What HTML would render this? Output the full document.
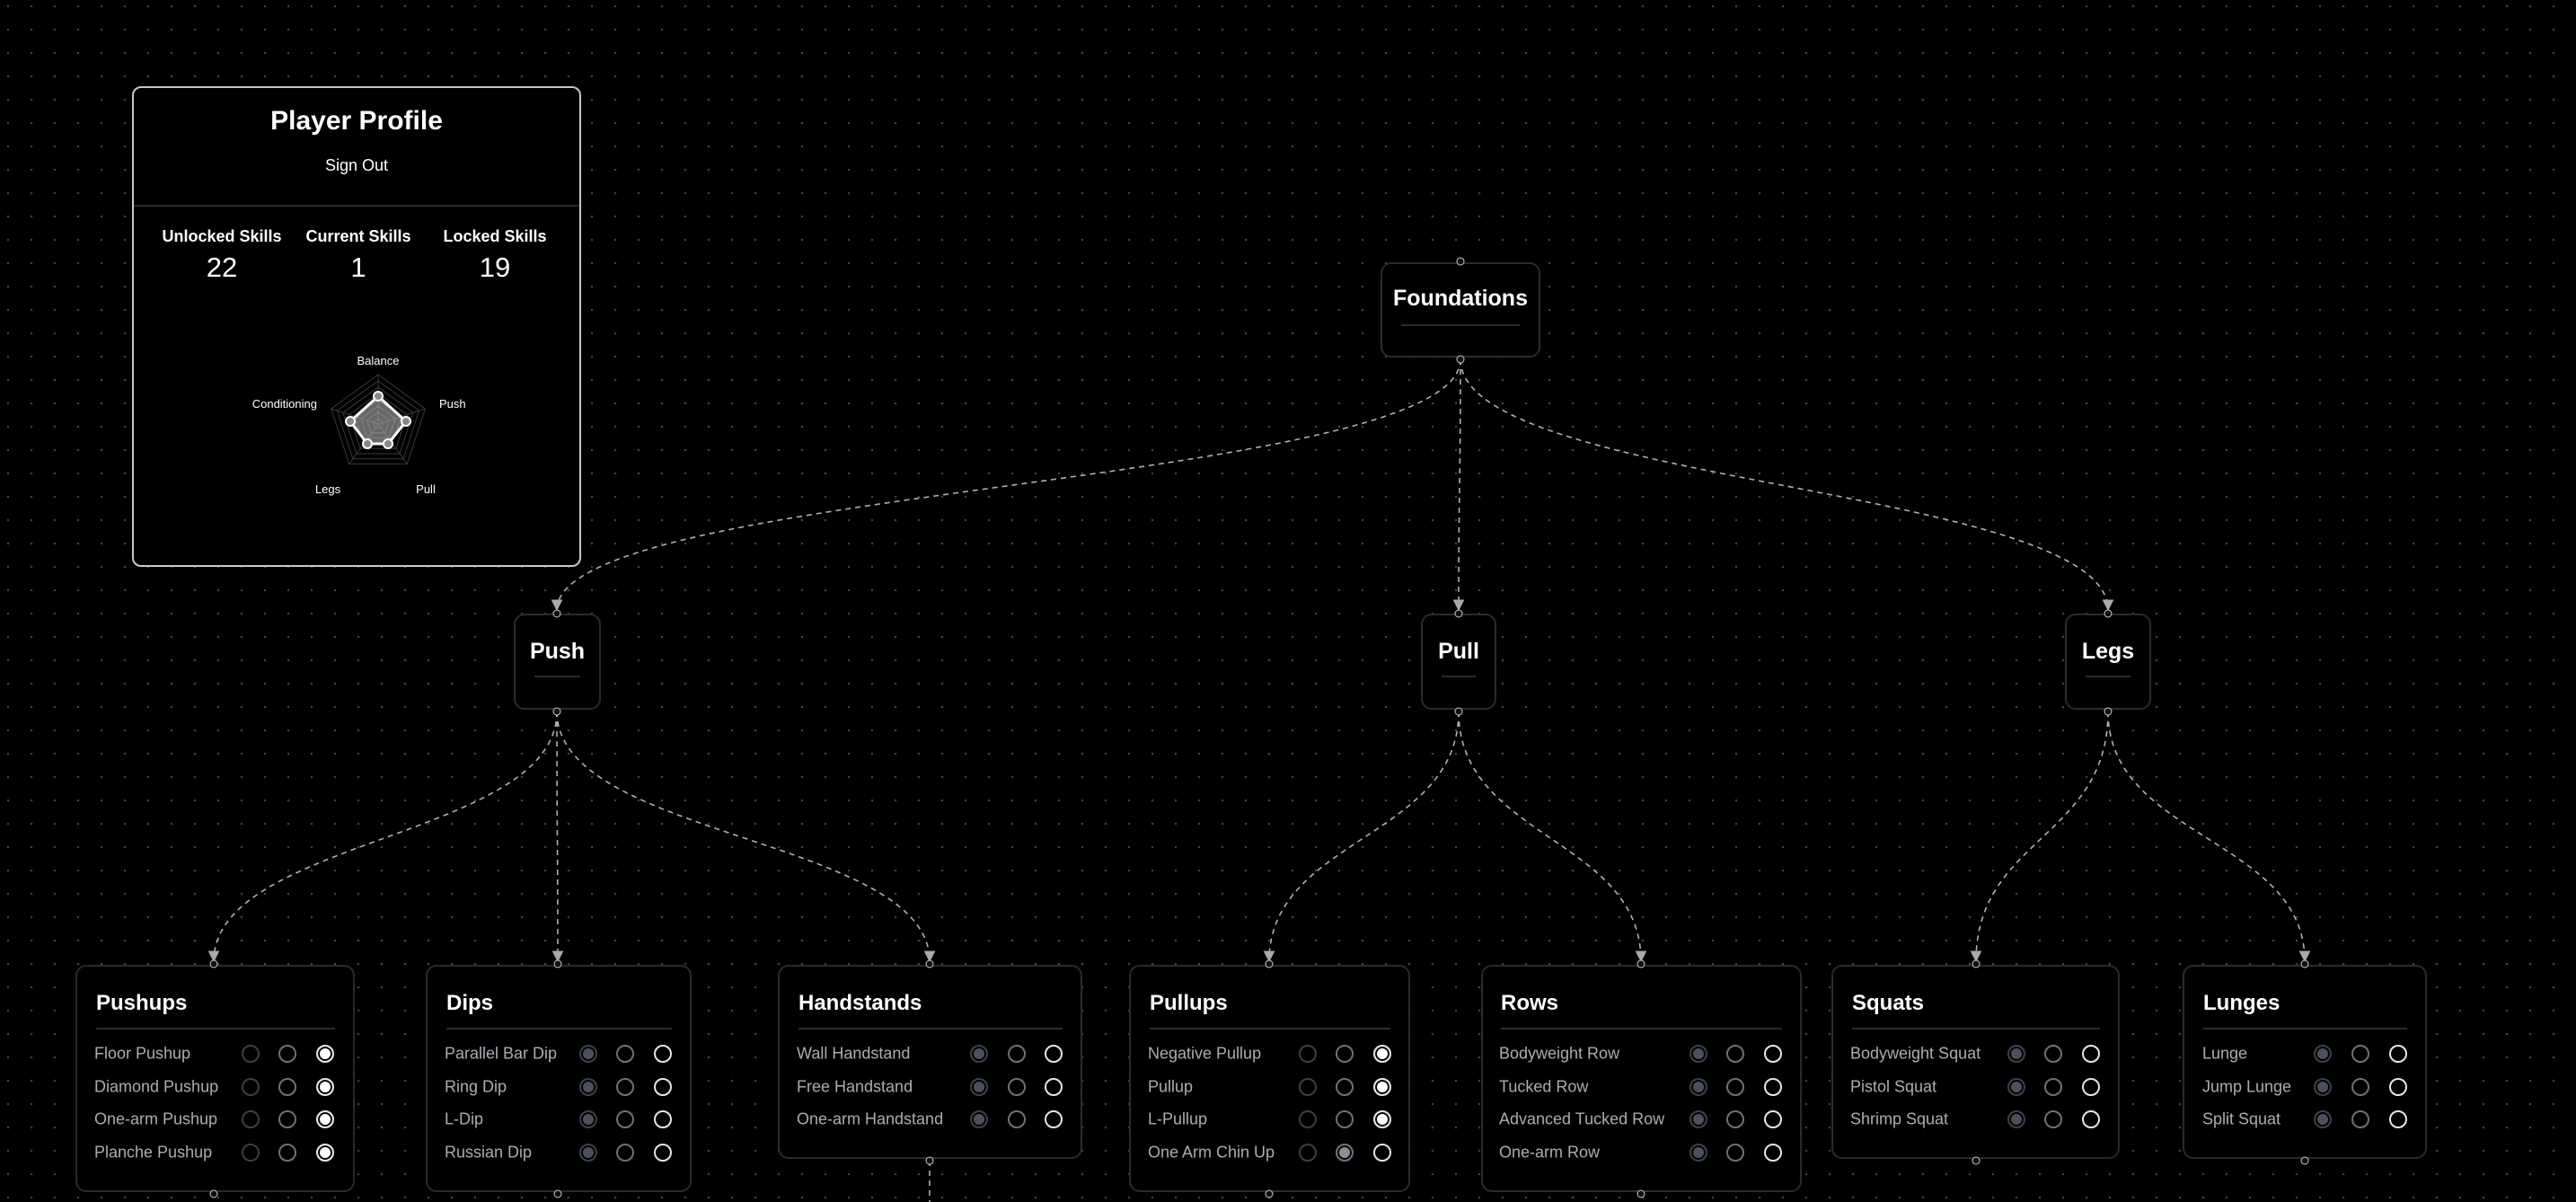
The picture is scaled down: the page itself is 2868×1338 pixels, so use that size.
<!DOCTYPE html>
<html><head><meta charset="utf-8"><style>
*{box-sizing:border-box;margin:0;padding:0}
body{width:2868px;height:1338px;overflow:hidden;background:#000;font-family:"Liberation Sans",sans-serif;position:relative;
background-image:radial-gradient(circle,#444 1px,transparent 1.5px);background-size:26px 26px;background-position:-4px -6px}
.n{position:absolute;background:#000;border:2px solid #262b35;border-radius:12px;color:#fff}
.h{position:absolute;width:9px;height:9px;border-radius:50%;background:#111;border:1.6px solid #ccc;transform:translate(-50%,-50%)}
.sm .t{position:absolute;left:0;right:0;text-align:center;font-weight:bold;font-size:25px}
.sm .d{position:absolute;height:2px;background:#262b35}
.c .t{position:absolute;font-weight:bold;font-size:24px}
.c .d{position:absolute;height:2px;background:#262b35}
.r{position:absolute;font-size:18px;color:#a9adb6;transform:translateY(-50%);white-space:nowrap}
.o{position:absolute;width:20px;height:20px;border-radius:50%;border:2px solid;transform:translate(-50%,-50%);background:#000}
.a{border-color:#3a404b}.b{border-color:#6c717b}.w{border-color:#e6e6e6}
.a.on{background:#4b515c;box-shadow:inset 0 0 0 2px #000}
.b.on{background:#8a8f98;box-shadow:inset 0 0 0 2px #000}
.w.on{background:#fff;box-shadow:inset 0 0 0 2px #000}
</style></head><body>
<svg width="2868" height="1338" style="position:absolute;left:0;top:0">
<defs><marker id="m" viewBox="0 0 10 10" refX="9" refY="5" markerWidth="8" markerHeight="8" orient="auto-start-reverse"><path d="M0,0 L10,5 L0,10 z" fill="#aaa"/></marker></defs>
<g fill="none" stroke="#b0b0b0" stroke-width="1.6" stroke-dasharray="6 5" marker-end="url(#m)">
<path d="M1626,400 C1626,541 620,541 620,679"/>
<path d="M1626,400 C1626,541 1624,541 1624,679"/>
<path d="M1626,400 C1626,541 2347,541 2347,679"/>
<path d="M620,792 C620,933 238,933 238,1070"/>
<path d="M620,792 C620,933 621,933 621,1070"/>
<path d="M620,792 C620,933 1035,933 1035,1070"/>
<path d="M1624,792 C1624,933 1413,933 1413,1070"/>
<path d="M1624,792 C1624,933 1827,933 1827,1070"/>
<path d="M2347,792 C2347,933 2200,933 2200,1070"/>
<path d="M2347,792 C2347,933 2566,933 2566,1070"/>
</g>
<path d="M1035,1292 L1035,1338" stroke="#b0b0b0" stroke-width="1.6" stroke-dasharray="6 5"/>
</svg>

<!-- Profile -->
<div style="position:absolute;left:147px;top:96px;width:500px;height:535px;border:2px solid #c8c8c8;border-radius:10px;background:#000;color:#fff">
<div style="position:absolute;top:20px;left:0;right:0;text-align:center;font-weight:bold;font-size:30px">Player Profile</div>
<div style="position:absolute;top:76px;left:0;right:0;text-align:center;font-size:18px">Sign Out</div>
<div style="position:absolute;top:130px;left:0;right:0;height:2px;background:#262b35"></div>
<div style="position:absolute;top:155px;left:18px;width:160px;text-align:center;font-weight:bold;font-size:18px">Unlocked Skills<div style="font-weight:normal;font-size:31px;margin-top:6px">22</div></div>
<div style="position:absolute;top:155px;left:170px;width:160px;text-align:center;font-weight:bold;font-size:18px">Current Skills<div style="font-weight:normal;font-size:31px;margin-top:6px">1</div></div>
<div style="position:absolute;top:155px;left:322px;width:160px;text-align:center;font-weight:bold;font-size:18px">Locked Skills<div style="font-weight:normal;font-size:31px;margin-top:6px">19</div></div>
</div>
<svg width="2868" height="1338" style="position:absolute;left:0;top:0" font-family="Liberation Sans" font-size="13" fill="#fff">
<g transform="translate(0,19)">
<g fill="none" stroke="#3a3a3a" stroke-width="1">
<polygon points="421,398 473.3,436 453.3,497.5 388.7,497.5 368.7,436"/>
<polygon points="421,405 466.6,438.1 449.2,491.7 392.8,491.7 375.4,438.1"/>
<polygon points="421,412 460,440.3 445.1,486 396.9,486 382,440.3"/>
<polygon points="421,419 453.3,442.5 441,480.2 401,480.2 388.7,442.5"/>
<polygon points="421,426 446.7,444.7 436.9,474.5 405.1,474.5 395.3,444.7"/>
<polygon points="421,433 440,446.8 432.8,468.8 409.2,468.8 402,446.8"/>
<polygon points="421,440 433.4,449 428.7,463 413.3,463 408.6,449"/>
<polygon points="421,447 426.7,451.1 424.5,457.3 417.5,457.3 415.3,451.1"/>
<path d="M421,453 L421,398 M421,453 L473.3,436 M421,453 L453.3,497.5 M421,453 L388.7,497.5 M421,453 L368.7,436"/>
</g>
<polygon points="421,422 452,450 432,475 409,475 390,450" fill="rgba(190,190,190,0.55)" stroke="#fff" stroke-width="3"/>
<g fill="#888" stroke="#fff" stroke-width="2">
<circle cx="421" cy="422" r="5"/><circle cx="452" cy="450" r="5"/><circle cx="432" cy="475" r="5"/><circle cx="409" cy="475" r="5"/><circle cx="390" cy="450" r="5"/>
</g>
<text x="421" y="387" text-anchor="middle">Balance</text>
<text x="489" y="435">Push</text>
<text x="353" y="435" text-anchor="end">Conditioning</text>
<text x="365" y="530" text-anchor="middle">Legs</text>
<text x="474" y="530" text-anchor="middle">Pull</text>
</g>
</svg>

<!-- small nodes -->
<div class="n sm" style="left:1537px;top:292px;width:178px;height:106px"><div class="t" style="top:24px">Foundations</div><div class="d" style="top:67px;left:21px;right:21px"></div></div>
<div class="n sm" style="left:572px;top:683px;width:97px;height:107px"><div class="t" style="top:26px">Push</div><div class="d" style="top:67px;left:21px;right:21px"></div></div>
<div class="n sm" style="left:1582px;top:683px;width:84px;height:107px"><div class="t" style="top:26px">Pull</div><div class="d" style="top:67px;left:21px;right:21px"></div></div>
<div class="n sm" style="left:2299px;top:683px;width:96px;height:107px"><div class="t" style="top:26px">Legs</div><div class="d" style="top:67px;left:21px;right:21px"></div></div>

<!-- cards -->
<div class="n c" style="left:84px;top:1074px;width:311px;height:253px"><div class="t" style="left:21px;top:27px">Pushups</div><div class="d" style="left:21px;right:20px;top:68px"></div></div>
<div class="n c" style="left:474px;top:1074px;width:296px;height:253px"><div class="t" style="left:21px;top:27px">Dips</div><div class="d" style="left:21px;right:20px;top:68px"></div></div>
<div class="n c" style="left:866px;top:1074px;width:339px;height:216px"><div class="t" style="left:21px;top:27px">Handstands</div><div class="d" style="left:21px;right:20px;top:68px"></div></div>
<div class="n c" style="left:1257px;top:1074px;width:313px;height:253px"><div class="t" style="left:21px;top:27px">Pullups</div><div class="d" style="left:21px;right:20px;top:68px"></div></div>
<div class="n c" style="left:1649px;top:1074px;width:357px;height:253px"><div class="t" style="left:20px;top:27px">Rows</div><div class="d" style="left:20px;right:20px;top:68px"></div></div>
<div class="n c" style="left:2039px;top:1074px;width:321px;height:216px"><div class="t" style="left:21px;top:27px">Squats</div><div class="d" style="left:21px;right:20px;top:68px"></div></div>
<div class="n c" style="left:2430px;top:1074px;width:272px;height:216px"><div class="t" style="left:21px;top:27px">Lunges</div><div class="d" style="left:21px;right:20px;top:68px"></div></div>

<!-- handles -->
<div class="h" style="left:1626px;top:291px"></div><div class="h" style="left:1626px;top:400px"></div>
<div class="h" style="left:620px;top:683px"></div><div class="h" style="left:620px;top:792px"></div>
<div class="h" style="left:1624px;top:683px"></div><div class="h" style="left:1624px;top:792px"></div>
<div class="h" style="left:2347px;top:683px"></div><div class="h" style="left:2347px;top:792px"></div>
<div class="h" style="left:238px;top:1073px"></div><div class="h" style="left:238px;top:1329px"></div>
<div class="h" style="left:621px;top:1073px"></div><div class="h" style="left:621px;top:1329px"></div>
<div class="h" style="left:1035px;top:1073px"></div><div class="h" style="left:1035px;top:1292px"></div>
<div class="h" style="left:1413px;top:1073px"></div><div class="h" style="left:1413px;top:1329px"></div>
<div class="h" style="left:1827px;top:1073px"></div><div class="h" style="left:1827px;top:1329px"></div>
<div class="h" style="left:2200px;top:1073px"></div><div class="h" style="left:2200px;top:1292px"></div>
<div class="h" style="left:2566px;top:1073px"></div><div class="h" style="left:2566px;top:1292px"></div>

<!-- Pushups rows -->
<div class="r" style="left:105px;top:1173px">Floor Pushup</div><div class="o a" style="left:279px;top:1173px"></div><div class="o b" style="left:320px;top:1173px"></div><div class="o w on" style="left:362px;top:1173px"></div>
<div class="r" style="left:105px;top:1210px">Diamond Pushup</div><div class="o a" style="left:279px;top:1210px"></div><div class="o b" style="left:320px;top:1210px"></div><div class="o w on" style="left:362px;top:1210px"></div>
<div class="r" style="left:105px;top:1246px">One-arm Pushup</div><div class="o a" style="left:279px;top:1246px"></div><div class="o b" style="left:320px;top:1246px"></div><div class="o w on" style="left:362px;top:1246px"></div>
<div class="r" style="left:105px;top:1283px">Planche Pushup</div><div class="o a" style="left:279px;top:1283px"></div><div class="o b" style="left:320px;top:1283px"></div><div class="o w on" style="left:362px;top:1283px"></div>
<!-- Dips -->
<div class="r" style="left:495px;top:1173px">Parallel Bar Dip</div><div class="o a on" style="left:655px;top:1173px"></div><div class="o b" style="left:696px;top:1173px"></div><div class="o w" style="left:738px;top:1173px"></div>
<div class="r" style="left:495px;top:1210px">Ring Dip</div><div class="o a on" style="left:655px;top:1210px"></div><div class="o b" style="left:696px;top:1210px"></div><div class="o w" style="left:738px;top:1210px"></div>
<div class="r" style="left:495px;top:1246px">L-Dip</div><div class="o a on" style="left:655px;top:1246px"></div><div class="o b" style="left:696px;top:1246px"></div><div class="o w" style="left:738px;top:1246px"></div>
<div class="r" style="left:495px;top:1283px">Russian Dip</div><div class="o a on" style="left:655px;top:1283px"></div><div class="o b" style="left:696px;top:1283px"></div><div class="o w" style="left:738px;top:1283px"></div>
<!-- Handstands -->
<div class="r" style="left:887px;top:1173px">Wall Handstand</div><div class="o a on" style="left:1090px;top:1173px"></div><div class="o b" style="left:1132px;top:1173px"></div><div class="o w" style="left:1173px;top:1173px"></div>
<div class="r" style="left:887px;top:1210px">Free Handstand</div><div class="o a on" style="left:1090px;top:1210px"></div><div class="o b" style="left:1132px;top:1210px"></div><div class="o w" style="left:1173px;top:1210px"></div>
<div class="r" style="left:887px;top:1246px">One-arm Handstand</div><div class="o a on" style="left:1090px;top:1246px"></div><div class="o b" style="left:1132px;top:1246px"></div><div class="o w" style="left:1173px;top:1246px"></div>
<!-- Pullups -->
<div class="r" style="left:1278px;top:1173px">Negative Pullup</div><div class="o a" style="left:1456px;top:1173px"></div><div class="o b" style="left:1497px;top:1173px"></div><div class="o w on" style="left:1539px;top:1173px"></div>
<div class="r" style="left:1278px;top:1210px">Pullup</div><div class="o a" style="left:1456px;top:1210px"></div><div class="o b" style="left:1497px;top:1210px"></div><div class="o w on" style="left:1539px;top:1210px"></div>
<div class="r" style="left:1278px;top:1246px">L-Pullup</div><div class="o a" style="left:1456px;top:1246px"></div><div class="o b" style="left:1497px;top:1246px"></div><div class="o w on" style="left:1539px;top:1246px"></div>
<div class="r" style="left:1278px;top:1283px">One Arm Chin Up</div><div class="o a" style="left:1456px;top:1283px"></div><div class="o b on" style="left:1497px;top:1283px"></div><div class="o w" style="left:1539px;top:1283px"></div>
<!-- Rows -->
<div class="r" style="left:1669px;top:1173px">Bodyweight Row</div><div class="o a on" style="left:1891px;top:1173px"></div><div class="o b" style="left:1932px;top:1173px"></div><div class="o w" style="left:1974px;top:1173px"></div>
<div class="r" style="left:1669px;top:1210px">Tucked Row</div><div class="o a on" style="left:1891px;top:1210px"></div><div class="o b" style="left:1932px;top:1210px"></div><div class="o w" style="left:1974px;top:1210px"></div>
<div class="r" style="left:1669px;top:1246px">Advanced Tucked Row</div><div class="o a on" style="left:1891px;top:1246px"></div><div class="o b" style="left:1932px;top:1246px"></div><div class="o w" style="left:1974px;top:1246px"></div>
<div class="r" style="left:1669px;top:1283px">One-arm Row</div><div class="o a on" style="left:1891px;top:1283px"></div><div class="o b" style="left:1932px;top:1283px"></div><div class="o w" style="left:1974px;top:1283px"></div>
<!-- Squats -->
<div class="r" style="left:2060px;top:1173px">Bodyweight Squat</div><div class="o a on" style="left:2245px;top:1173px"></div><div class="o b" style="left:2286px;top:1173px"></div><div class="o w" style="left:2328px;top:1173px"></div>
<div class="r" style="left:2060px;top:1210px">Pistol Squat</div><div class="o a on" style="left:2245px;top:1210px"></div><div class="o b" style="left:2286px;top:1210px"></div><div class="o w" style="left:2328px;top:1210px"></div>
<div class="r" style="left:2060px;top:1246px">Shrimp Squat</div><div class="o a on" style="left:2245px;top:1246px"></div><div class="o b" style="left:2286px;top:1246px"></div><div class="o w" style="left:2328px;top:1246px"></div>
<!-- Lunges -->
<div class="r" style="left:2452px;top:1173px">Lunge</div><div class="o a on" style="left:2586px;top:1173px"></div><div class="o b" style="left:2628px;top:1173px"></div><div class="o w" style="left:2670px;top:1173px"></div>
<div class="r" style="left:2452px;top:1210px">Jump Lunge</div><div class="o a on" style="left:2586px;top:1210px"></div><div class="o b" style="left:2628px;top:1210px"></div><div class="o w" style="left:2670px;top:1210px"></div>
<div class="r" style="left:2452px;top:1246px">Split Squat</div><div class="o a on" style="left:2586px;top:1246px"></div><div class="o b" style="left:2628px;top:1246px"></div><div class="o w" style="left:2670px;top:1246px"></div>
</body></html>
